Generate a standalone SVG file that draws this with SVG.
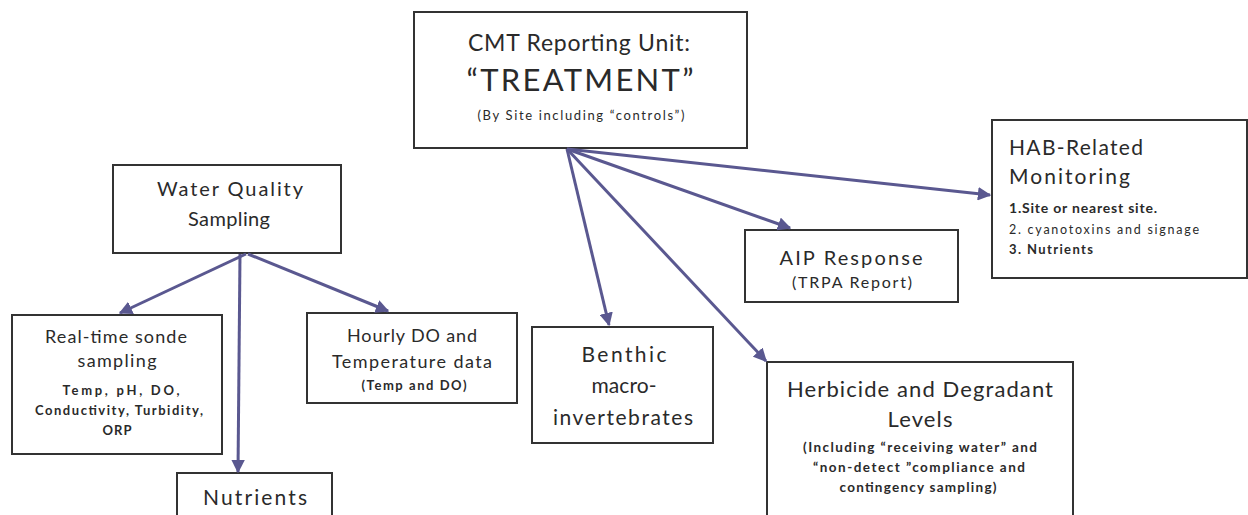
<svg xmlns="http://www.w3.org/2000/svg" width="1248" height="515" viewBox="0 0 1248 515">
<defs>
<marker id="ah" viewBox="0 0 10 10" refX="9" refY="5" markerWidth="4.5" markerHeight="4.5" markerUnits="strokeWidth" orient="auto">
<path d="M0,0 L10,5 L0,10 Z" fill="#5a5890"/>
</marker>
<style>
.box{fill:#fff;stroke:#333;stroke-width:2}
text{font-family:Lato,"Liberation Sans",sans-serif;fill:#2a2a2a;text-anchor:middle}
.b{font-weight:bold}
.s{text-anchor:start}
.c{stroke:#5a5890;stroke-width:3;fill:none;marker-end:url(#ah)}
</style>
</defs>
<rect width="1248" height="515" fill="#fff"/>
<g id="n-treatment">
<rect class="box" x="414" y="12" width="333" height="136"/>
<text x="579" y="51" font-size="23" textLength="222" lengthAdjust="spacing">CMT Reporting Unit:</text>
<text x="580" y="91" font-size="31" textLength="227" lengthAdjust="spacing">“TREATMENT”</text>
<text x="581" y="120" font-size="13" textLength="207" lengthAdjust="spacing">(By Site including “controls”)</text>
</g>
<g id="n-hab">
<rect class="box" x="992" y="120" width="255" height="158"/>
<text class="s" x="1009" y="155" font-size="21" textLength="134" lengthAdjust="spacing">HAB-Related</text>
<text class="s" x="1009" y="184" font-size="21" textLength="121" lengthAdjust="spacing">Monitoring</text>
<text class="s b" x="1009" y="213" font-size="14" textLength="148" lengthAdjust="spacing">1.Site or nearest site.</text>
<text class="s" x="1009" y="234" font-size="12.5" textLength="190" lengthAdjust="spacing">2. cyanotoxins and signage</text>
<text class="s b" x="1009" y="254" font-size="13" textLength="84" lengthAdjust="spacing">3. Nutrients</text>
</g>
<g id="n-wq">
<rect class="box" x="113" y="165" width="228" height="88"/>
<text x="230" y="196" font-size="20" textLength="146" lengthAdjust="spacing">Water Quality</text>
<text x="229" y="226" font-size="20" textLength="82" lengthAdjust="spacing">Sampling</text>
</g>
<g id="n-sonde">
<rect class="box" x="12" y="315" width="210" height="139"/>
<text x="116" y="343" font-size="18" textLength="142" lengthAdjust="spacing">Real-time sonde</text>
<text x="117" y="367" font-size="18" textLength="79" lengthAdjust="spacing">sampling</text>
<text class="b" x="121" y="395" font-size="13" textLength="117" lengthAdjust="spacing">Temp, pH, DO,</text>
<text class="b" x="119" y="415" font-size="13" textLength="168" lengthAdjust="spacing">Conductivity, Turbidity,</text>
<text class="b" x="117" y="435" font-size="13" textLength="29" lengthAdjust="spacing">ORP</text>
</g>
<g id="n-hourly">
<rect class="box" x="307" y="313" width="210" height="90"/>
<text x="412" y="342" font-size="18" textLength="130" lengthAdjust="spacing">Hourly DO and</text>
<text x="412" y="368" font-size="18" textLength="160" lengthAdjust="spacing">Temperature data</text>
<text class="b" x="414" y="390" font-size="13" textLength="105" lengthAdjust="spacing">(Temp and DO)</text>
</g>
<g id="n-nutrients">
<rect class="box" x="177" y="473" width="155" height="50"/>
<text x="255" y="505" font-size="21" textLength="104" lengthAdjust="spacing">Nutrients</text>
</g>
<g id="n-benthic">
<rect class="box" x="532" y="327" width="181" height="116"/>
<text x="624" y="362" font-size="21" textLength="85" lengthAdjust="spacing">Benthic</text>
<text x="624" y="393" font-size="21" textLength="65" lengthAdjust="spacing">macro-</text>
<text x="623" y="425" font-size="21" textLength="140" lengthAdjust="spacing">invertebrates</text>
</g>
<g id="n-aip">
<rect class="box" x="745" y="230" width="213" height="72"/>
<text x="851" y="265" font-size="20" textLength="143" lengthAdjust="spacing">AIP Response</text>
<text x="852" y="288" font-size="16" textLength="120" lengthAdjust="spacing">(TRPA Report)</text>
</g>
<g id="n-herbicide">
<rect class="box" x="767" y="362" width="306" height="170"/>
<text x="920" y="397" font-size="22" textLength="266" lengthAdjust="spacing">Herbicide and Degradant</text>
<text x="920" y="427" font-size="22" textLength="65" lengthAdjust="spacing">Levels</text>
<text class="b" x="920" y="452" font-size="13.5" textLength="234" lengthAdjust="spacing">(Including “receiving water” and</text>
<text class="b" x="919" y="472" font-size="13.5" textLength="212" lengthAdjust="spacing">“non-detect ”compliance and</text>
<text class="b" x="918" y="492" font-size="13.5" textLength="157" lengthAdjust="spacing">contingency sampling)</text>
</g>
<g id="connectors">
<line class="c" x1="567" y1="149" x2="609" y2="325"/>
<line class="c" x1="567" y1="149" x2="766" y2="361"/>
<line class="c" x1="567" y1="149" x2="790" y2="228"/>
<line class="c" x1="567" y1="149" x2="990" y2="195"/>
<line class="c" x1="246" y1="254" x2="120" y2="313"/>
<line class="c" x1="240" y1="254" x2="238" y2="472"/>
<line class="c" x1="248" y1="254" x2="388" y2="311"/>
</g>
</svg>
